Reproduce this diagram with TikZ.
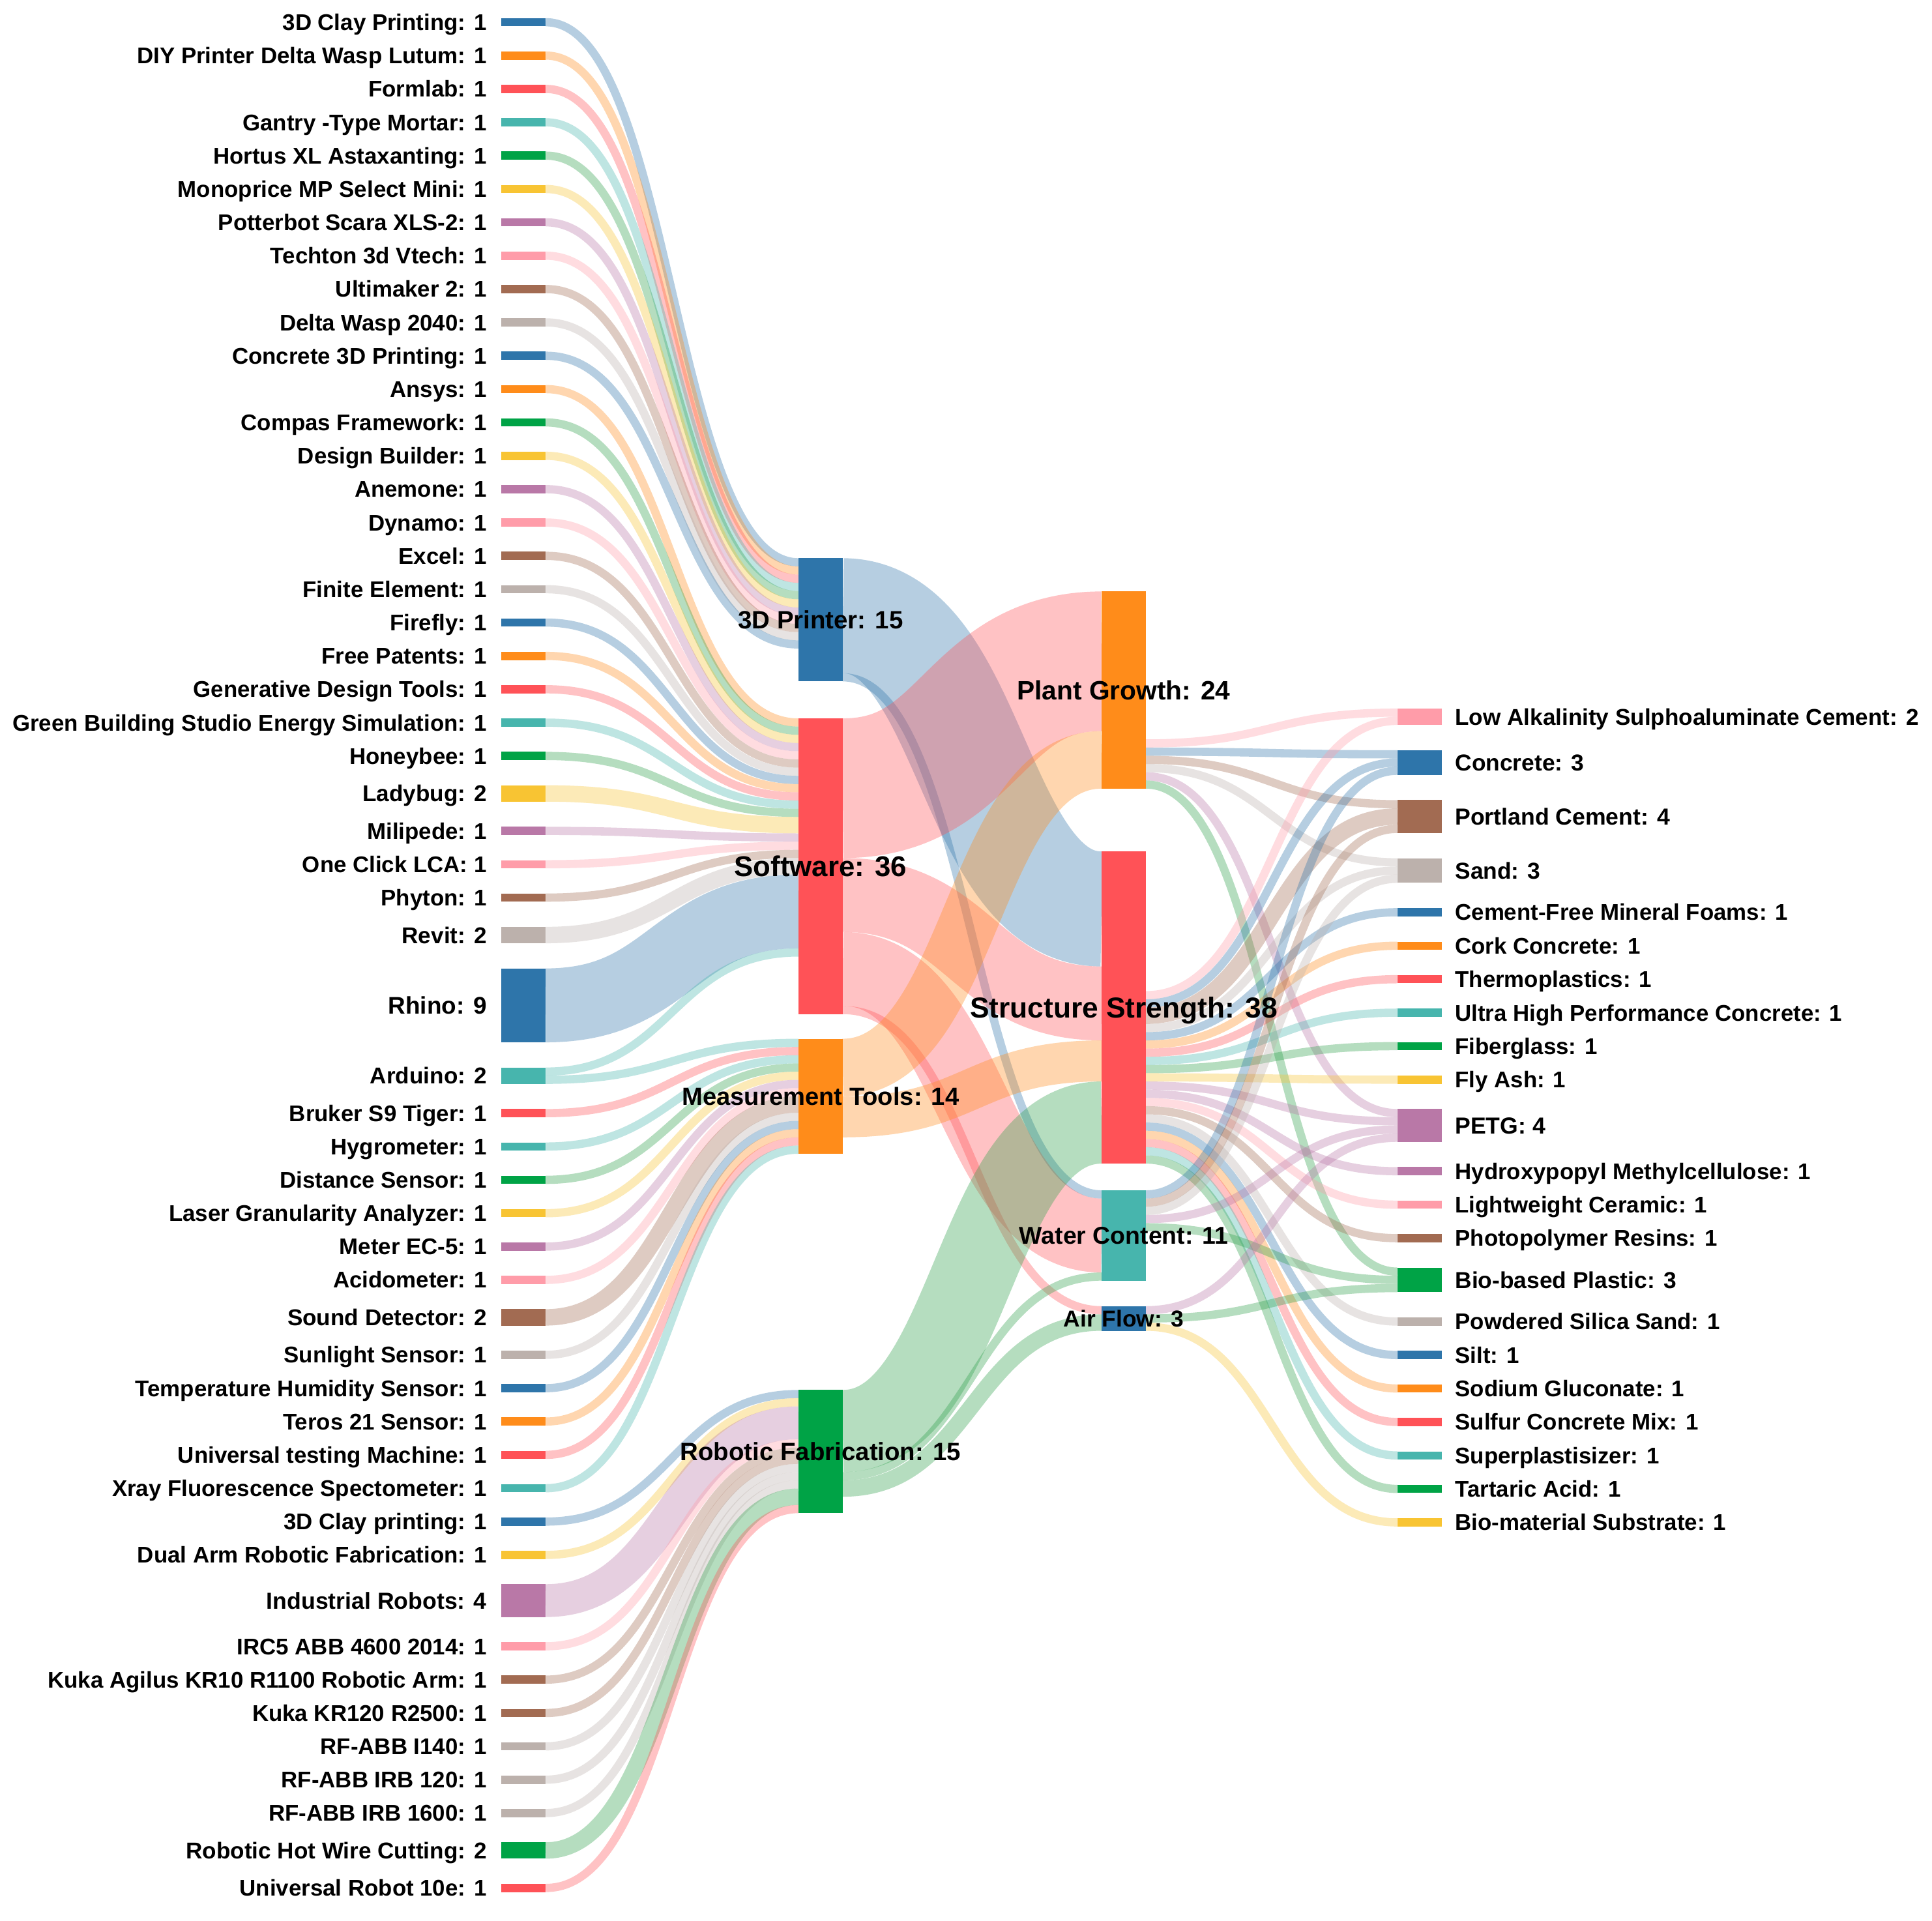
\documentclass[tikz,border=0pt]{standalone}
\usepackage{fontspec}
\setmainfont{Liberation Sans}
\usetikzlibrary{calc}
\pgfdeclarelayer{bg}
\pgfdeclarelayer{lk}
\pgfsetlayers{bg,lk,main}
\definecolor{cblue}{HTML}{2E75AA}
\definecolor{corange}{HTML}{FF8C1A}
\definecolor{cred}{HTML}{FF5257}
\definecolor{cteal}{HTML}{47B5AD}
\definecolor{cgreen}{HTML}{00A346}
\definecolor{lgreen}{HTML}{2CA04A}
\definecolor{cyellow}{HTML}{F8C433}
\definecolor{cpurple}{HTML}{B978A7}
\definecolor{cpink}{HTML}{FF9CA9}
\definecolor{cbrown}{HTML}{A26B52}
\definecolor{cgray}{HTML}{BCB1AC}
\newcommand{\Uu}{6.6667}
\tikzset{
  barnode/.style={draw=none, inner sep=0pt, outer sep=0pt, minimum width=36pt, anchor=north west},
  lnk/.style={draw opacity=0.35, line cap=butt},
}
\newcommand{\mklabel}[4]{%
  \pgfmathsetmacro\lfs{18.3+0.135*#3}%
  \pgfmathsetlengthmacro\lth{0.716*\lfs}%
  \node[anchor=#2, inner sep=0pt, outer sep=0pt, text height=\lth, text depth=0pt,
        font=\fontsize{\lfs}{\lfs}\selectfont\bfseries] at #1 {#4};}
\newcommand{\Lnode}[6]{%
  \pgfmathsetmacro\ntop{14.7+\Uu*#3+20.4*#2}%
  \node[barnode, fill=#5, minimum height={#4*\Uu*1pt}] (#1) at (407,\ntop) {};
  \mklabel{($(#1.west)+(-12,0)$)}{east}{#4}{#6: #4}}
\newcommand{\Rnode}[6]{%
  \pgfmathsetmacro\ntop{575+\Uu*#3+20.5*#2}%
  \node[barnode, fill=#5, minimum height={#4*\Uu*1pt}] (#1) at (1134,\ntop) {};
  \mklabel{($(#1.east)+(11,0)$)}{west}{#4}{#6: #4}}
\newcommand{\Mnode}[6]{%
  \node[barnode, fill=#5, minimum height={#4*\Uu*1pt}] (#1) at (#2,#3) {};
  \mklabel{(#1.center)}{center}{#4}{#6: #4}}
\newcommand{\lk}[7]{%
  \draw[lnk, draw=#6, line width={#5*\Uu*1pt}]
    ($(#1.north east)+(0,{(#2+#5/2)*\Uu})$) .. controls +(#7,0) and +(-#7,0) ..
    ($(#3.north west)+(0,{(#4+#5/2)*\Uu})$);}
\newcommand{\lkA}[6]{\lk{#1}{#2}{#3}{#4}{#5}{#6}{102.5}}
\newcommand{\lkB}[6]{\lk{#1}{#2}{#3}{#4}{#5}{#6}{105}}
\newcommand{\lkC}[6]{\lk{#1}{#2}{#3}{#4}{#5}{#6}{102}}
\begin{document}
\begin{tikzpicture}[x=1pt, y=-1pt]
\begin{pgfonlayer}{bg}
\fill[white] (0,0) rectangle (1568,1558.5);
\end{pgfonlayer}
\useasboundingbox (0,0) rectangle (1568,1558.5);
% ---------- left column ----------
\Lnode{L1}{0}{0}{1}{cblue}{3D Clay Printing}
\Lnode{L2}{1}{1}{1}{corange}{DIY Printer Delta Wasp Lutum}
\Lnode{L3}{2}{2}{1}{cred}{Formlab}
\Lnode{L4}{3}{3}{1}{cteal}{Gantry -Type Mortar}
\Lnode{L5}{4}{4}{1}{cgreen}{Hortus XL Astaxanting}
\Lnode{L6}{5}{5}{1}{cyellow}{Monoprice MP Select Mini}
\Lnode{L7}{6}{6}{1}{cpurple}{Potterbot Scara XLS-2}
\Lnode{L8}{7}{7}{1}{cpink}{Techton 3d Vtech}
\Lnode{L9}{8}{8}{1}{cbrown}{Ultimaker 2}
\Lnode{L10}{9}{9}{1}{cgray}{Delta Wasp 2040}
\Lnode{L11}{10}{10}{1}{cblue}{Concrete 3D Printing}
\Lnode{L12}{11}{11}{1}{corange}{Ansys}
\Lnode{L13}{12}{12}{1}{cgreen}{Compas Framework}
\Lnode{L14}{13}{13}{1}{cyellow}{Design Builder}
\Lnode{L15}{14}{14}{1}{cpurple}{Anemone}
\Lnode{L16}{15}{15}{1}{cpink}{Dynamo}
\Lnode{L17}{16}{16}{1}{cbrown}{Excel}
\Lnode{L18}{17}{17}{1}{cgray}{Finite Element}
\Lnode{L19}{18}{18}{1}{cblue}{Firefly}
\Lnode{L20}{19}{19}{1}{corange}{Free Patents}
\Lnode{L21}{20}{20}{1}{cred}{Generative Design Tools}
\Lnode{L22}{21}{21}{1}{cteal}{Green Building Studio Energy Simulation}
\Lnode{L23}{22}{22}{1}{cgreen}{Honeybee}
\Lnode{L24}{23}{23}{2}{cyellow}{Ladybug}
\Lnode{L25}{24}{25}{1}{cpurple}{Milipede}
\Lnode{L26}{25}{26}{1}{cpink}{One Click LCA}
\Lnode{L27}{26}{27}{1}{cbrown}{Phyton}
\Lnode{L28}{27}{28}{2}{cgray}{Revit}
\Lnode{L29}{28}{30}{9}{cblue}{Rhino}
\Lnode{L30}{29}{39}{2}{cteal}{Arduino}
\Lnode{L31}{30}{41}{1}{cred}{Bruker S9 Tiger}
\Lnode{L32}{31}{42}{1}{cteal}{Hygrometer}
\Lnode{L33}{32}{43}{1}{cgreen}{Distance Sensor}
\Lnode{L34}{33}{44}{1}{cyellow}{Laser Granularity Analyzer}
\Lnode{L35}{34}{45}{1}{cpurple}{Meter EC-5}
\Lnode{L36}{35}{46}{1}{cpink}{Acidometer}
\Lnode{L37}{36}{47}{2}{cbrown}{Sound Detector}
\Lnode{L38}{37}{49}{1}{cgray}{Sunlight Sensor}
\Lnode{L39}{38}{50}{1}{cblue}{Temperature Humidity Sensor}
\Lnode{L40}{39}{51}{1}{corange}{Teros 21 Sensor}
\Lnode{L41}{40}{52}{1}{cred}{Universal testing Machine}
\Lnode{L42}{41}{53}{1}{cteal}{Xray Fluorescence Spectometer}
\Lnode{L43}{42}{54}{1}{cblue}{3D Clay printing}
\Lnode{L44}{43}{55}{1}{cyellow}{Dual Arm Robotic Fabrication}
\Lnode{L45}{44}{56}{4}{cpurple}{Industrial Robots}
\Lnode{L46}{45}{60}{1}{cpink}{IRC5 ABB 4600 2014}
\Lnode{L47}{46}{61}{1}{cbrown}{Kuka Agilus KR10 R1100 Robotic Arm}
\Lnode{L48}{47}{62}{1}{cbrown}{Kuka KR120 R2500}
\Lnode{L49}{48}{63}{1}{cgray}{RF-ABB I140}
\Lnode{L50}{49}{64}{1}{cgray}{RF-ABB IRB 120}
\Lnode{L51}{50}{65}{1}{cgray}{RF-ABB IRB 1600}
\Lnode{L52}{51}{66}{2}{cgreen}{Robotic Hot Wire Cutting}
\Lnode{L53}{52}{68}{1}{cred}{Universal Robot 10e}
% ---------- middle columns ----------
\Mnode{P3}{648}{453}{15}{cblue}{3D Printer}
\Mnode{SW}{648}{583}{36}{cred}{Software}
\Mnode{MT}{648}{843}{14}{corange}{Measurement Tools}
\Mnode{RF}{648}{1128}{15}{cgreen}{Robotic Fabrication}
\Mnode{PG}{894}{480}{24}{corange}{Plant Growth}
\Mnode{SS}{894}{691}{38}{cred}{Structure Strength}
\Mnode{WC}{894}{966}{11}{cteal}{Water Content}
\Mnode{AF}{894}{1060}{3}{cblue}{Air Flow}
% ---------- right column ----------
\Rnode{R1}{0}{0}{2}{cpink}{Low Alkalinity Sulphoaluminate Cement}
\Rnode{R2}{1}{2}{3}{cblue}{Concrete}
\Rnode{R3}{2}{5}{4}{cbrown}{Portland Cement}
\Rnode{R4}{3}{9}{3}{cgray}{Sand}
\Rnode{R5}{4}{12}{1}{cblue}{Cement-Free Mineral Foams}
\Rnode{R6}{5}{13}{1}{corange}{Cork Concrete}
\Rnode{R7}{6}{14}{1}{cred}{Thermoplastics}
\Rnode{R8}{7}{15}{1}{cteal}{Ultra High Performance Concrete}
\Rnode{R9}{8}{16}{1}{cgreen}{Fiberglass}
\Rnode{R10}{9}{17}{1}{cyellow}{Fly Ash}
\Rnode{R11}{10}{18}{4}{cpurple}{PETG}
\Rnode{R12}{11}{22}{1}{cpurple}{Hydroxypopyl Methylcellulose}
\Rnode{R13}{12}{23}{1}{cpink}{Lightweight Ceramic}
\Rnode{R14}{13}{24}{1}{cbrown}{Photopolymer Resins}
\Rnode{R15}{14}{25}{3}{cgreen}{Bio-based Plastic}
\Rnode{R16}{15}{28}{1}{cgray}{Powdered Silica Sand}
\Rnode{R17}{16}{29}{1}{cblue}{Silt}
\Rnode{R18}{17}{30}{1}{corange}{Sodium Gluconate}
\Rnode{R19}{18}{31}{1}{cred}{Sulfur Concrete Mix}
\Rnode{R20}{19}{32}{1}{cteal}{Superplastisizer}
\Rnode{R21}{20}{33}{1}{cgreen}{Tartaric Acid}
\Rnode{R22}{21}{34}{1}{cyellow}{Bio-material Substrate}
% ---------- links ----------
\begin{pgfonlayer}{lk}
% left -> 3D Printer
\lkA{L1}{0}{P3}{0}{1}{cblue}
\lkA{L2}{0}{P3}{1}{1}{corange}
\lkA{L3}{0}{P3}{2}{1}{cred}
\lkA{L4}{0}{P3}{3}{1}{cteal}
\lkA{L5}{0}{P3}{4}{1}{lgreen}
\lkA{L6}{0}{P3}{5}{1}{cyellow}
\lkA{L7}{0}{P3}{6}{1}{cpurple}
\lkA{L8}{0}{P3}{7}{1}{cpink}
\lkA{L9}{0}{P3}{8}{1}{cbrown}
\lkA{L10}{0}{P3}{9}{1}{cgray}
\lkA{L11}{0}{P3}{10}{1}{cblue}
% left -> Software
\lkA{L12}{0}{SW}{0}{1}{corange}
\lkA{L13}{0}{SW}{1}{1}{lgreen}
\lkA{L14}{0}{SW}{2}{1}{cyellow}
\lkA{L15}{0}{SW}{3}{1}{cpurple}
\lkA{L16}{0}{SW}{4}{1}{cpink}
\lkA{L17}{0}{SW}{5}{1}{cbrown}
\lkA{L18}{0}{SW}{6}{1}{cgray}
\lkA{L19}{0}{SW}{7}{1}{cblue}
\lkA{L20}{0}{SW}{8}{1}{corange}
\lkA{L21}{0}{SW}{9}{1}{cred}
\lkA{L22}{0}{SW}{10}{1}{cteal}
\lkA{L23}{0}{SW}{11}{1}{lgreen}
\lkA{L24}{0}{SW}{12}{2}{cyellow}
\lkA{L25}{0}{SW}{14}{1}{cpurple}
\lkA{L26}{0}{SW}{15}{1}{cpink}
\lkA{L27}{0}{SW}{16}{1}{cbrown}
\lkA{L28}{0}{SW}{17}{2}{cgray}
\lkA{L29}{0}{SW}{19}{9}{cblue}
\lkA{L30}{0}{SW}{28}{1}{cteal}
% left -> Measurement Tools
\lkA{L30}{1}{MT}{0}{1}{cteal}
\lkA{L31}{0}{MT}{1}{1}{cred}
\lkA{L32}{0}{MT}{2}{1}{cteal}
\lkA{L33}{0}{MT}{3}{1}{lgreen}
\lkA{L34}{0}{MT}{4}{1}{cyellow}
\lkA{L35}{0}{MT}{5}{1}{cpurple}
\lkA{L36}{0}{MT}{6}{1}{cpink}
\lkA{L37}{0}{MT}{7}{2}{cbrown}
\lkA{L38}{0}{MT}{9}{1}{cgray}
\lkA{L39}{0}{MT}{10}{1}{cblue}
\lkA{L40}{0}{MT}{11}{1}{corange}
\lkA{L41}{0}{MT}{12}{1}{cred}
\lkA{L42}{0}{MT}{13}{1}{cteal}
% left -> Robotic Fabrication
\lkA{L43}{0}{RF}{0}{1}{cblue}
\lkA{L44}{0}{RF}{1}{1}{cyellow}
\lkA{L45}{0}{RF}{2}{4}{cpurple}
\lkA{L46}{0}{RF}{6}{1}{cpink}
\lkA{L47}{0}{RF}{7}{1}{cbrown}
\lkA{L48}{0}{RF}{8}{1}{cbrown}
\lkA{L49}{0}{RF}{9}{1}{cgray}
\lkA{L50}{0}{RF}{10}{1}{cgray}
\lkA{L51}{0}{RF}{11}{1}{cgray}
\lkA{L52}{0}{RF}{12}{2}{lgreen}
\lkA{L53}{0}{RF}{14}{1}{cred}
% middle -> third
\lkB{P3}{0}{SS}{0}{14}{cblue}
\lkB{P3}{14}{WC}{0}{1}{cblue}
\lkB{SW}{0}{PG}{0}{17}{cred}
\lkB{SW}{17}{SS}{14}{9}{cred}
\lkB{SW}{26}{WC}{1}{9}{cred}
\lkB{SW}{35}{AF}{0}{1}{cred}
\lkB{MT}{0}{PG}{17}{7}{corange}
\lkB{MT}{7}{SS}{23}{5}{corange}
\lkB{RF}{0}{SS}{28}{10}{lgreen}
\lkB{RF}{10}{WC}{10}{1}{lgreen}
\lkB{RF}{11}{AF}{1}{2}{lgreen}
% third -> right
\lkC{PG}{18}{R1}{0}{1}{cpink}
\lkC{PG}{19}{R2}{0}{1}{cblue}
\lkC{PG}{20}{R3}{0}{1}{cbrown}
\lkC{PG}{21}{R4}{0}{1}{cgray}
\lkC{PG}{22}{R11}{0}{1}{cpurple}
\lkC{PG}{23}{R15}{0}{1}{lgreen}
\lkC{SS}{17}{R1}{1}{1}{cpink}
\lkC{SS}{18}{R2}{1}{1}{cblue}
\lkC{SS}{19}{R3}{1}{2}{cbrown}
\lkC{SS}{21}{R4}{1}{1}{cgray}
\lkC{SS}{22}{R5}{0}{1}{cblue}
\lkC{SS}{23}{R6}{0}{1}{corange}
\lkC{SS}{24}{R7}{0}{1}{cred}
\lkC{SS}{25}{R8}{0}{1}{cteal}
\lkC{SS}{26}{R9}{0}{1}{lgreen}
\lkC{SS}{27}{R10}{0}{1}{cyellow}
\lkC{SS}{28}{R11}{1}{1}{cpurple}
\lkC{SS}{29}{R12}{0}{1}{cpurple}
\lkC{SS}{30}{R13}{0}{1}{cpink}
\lkC{SS}{31}{R14}{0}{1}{cbrown}
\lkC{SS}{32}{R16}{0}{1}{cgray}
\lkC{SS}{33}{R17}{0}{1}{cblue}
\lkC{SS}{34}{R18}{0}{1}{corange}
\lkC{SS}{35}{R19}{0}{1}{cred}
\lkC{SS}{36}{R20}{0}{1}{cteal}
\lkC{SS}{37}{R21}{0}{1}{lgreen}
\lkC{WC}{0}{R2}{2}{1}{cblue}
\lkC{WC}{1}{R3}{3}{1}{cbrown}
\lkC{WC}{2}{R4}{2}{1}{cgray}
\lkC{WC}{3}{R11}{2}{1}{cpurple}
\lkC{WC}{4}{R15}{1}{1}{lgreen}
\lkC{AF}{0}{R11}{3}{1}{cpurple}
\lkC{AF}{1}{R15}{2}{1}{lgreen}
\lkC{AF}{2}{R22}{0}{1}{cyellow}
\end{pgfonlayer}
\end{tikzpicture}
\end{document}
